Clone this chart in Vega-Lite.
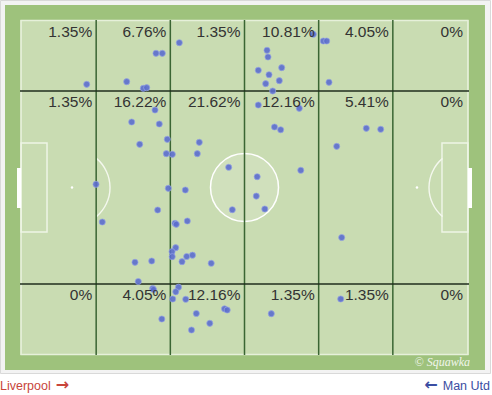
{
  "$schema": "https://vega.github.io/schema/vega-lite/v6.json",
  "width": 492,
  "height": 395,
  "autosize": {"type": "none"},
  "padding": 0,
  "background": "#ffffff",
  "config": {"view": {"stroke": null}},
  "data": {"values": [{}]},
  "datasets": {
    "vlines": [{"x": 16.667}, {"x": 33.333}, {"x": 50}, {"x": 66.667}, {"x": 83.333}],
    "hlines": [{"y": 21}, {"y": 79}],
    "boxes": [{"x1": -0.2, "x2": 5.62}, {"x1": 94.38, "x2": 100.2}],
    "goals": [{"x1": -1.12, "x2": -0.22}, {"x1": 100.22, "x2": 101.12}],
    "spots": [{"x": 11.24}, {"x": 88.76}],
    "arcs": [{"x": 11.24, "t1": 0.698, "t2": 2.443}, {"x": 88.76, "t1": 3.840, "t2": 5.585}],
    "zones": [
      {"xr": 16.667, "yt": 0, "label": "1.35%"},
      {"xr": 33.333, "yt": 0, "label": "6.76%"},
      {"xr": 50, "yt": 0, "label": "1.35%"},
      {"xr": 66.667, "yt": 0, "label": "10.81%"},
      {"xr": 83.333, "yt": 0, "label": "4.05%"},
      {"xr": 100, "yt": 0, "label": "0%"},
      {"xr": 16.667, "yt": 21, "label": "1.35%"},
      {"xr": 33.333, "yt": 21, "label": "16.22%"},
      {"xr": 50, "yt": 21, "label": "21.62%"},
      {"xr": 66.667, "yt": 21, "label": "12.16%"},
      {"xr": 83.333, "yt": 21, "label": "5.41%"},
      {"xr": 100, "yt": 21, "label": "0%"},
      {"xr": 16.667, "yt": 79, "label": "0%"},
      {"xr": 33.333, "yt": 79, "label": "4.05%"},
      {"xr": 50, "yt": 79, "label": "12.16%"},
      {"xr": 66.667, "yt": 79, "label": "1.35%"},
      {"xr": 83.333, "yt": 79, "label": "1.35%"},
      {"xr": 100, "yt": 79, "label": "0%"}
    ],
    "events": [
      {"x": 14.54, "y": 19.01},
      {"x": 30.11, "y": 9.70}, {"x": 31.53, "y": 9.70}, {"x": 23.53, "y": 18.23}, {"x": 27.26, "y": 20.21}, {"x": 28.02, "y": 20.03},
      {"x": 35.35, "y": 6.52},
      {"x": 65.46, "y": 3.99}, {"x": 55.06, "y": 8.80}, {"x": 55.28, "y": 10.81}, {"x": 58.36, "y": 14.02}, {"x": 53.10, "y": 14.80}, {"x": 55.51, "y": 16.13}, {"x": 57.82, "y": 17.93}, {"x": 54.76, "y": 18.83},
      {"x": 67.71, "y": 6.01}, {"x": 68.47, "y": 6.01}, {"x": 68.99, "y": 18.41},
      {"x": 16.63, "y": 49.04},
      {"x": 29.89, "y": 26.73}, {"x": 24.65, "y": 30.33}, {"x": 30.85, "y": 30.93}, {"x": 32.65, "y": 35.53}, {"x": 26.45, "y": 37.03}, {"x": 32.43, "y": 39.85}, {"x": 32.88, "y": 50.24}, {"x": 30.49, "y": 56.76}, {"x": 18.04, "y": 60.36}, {"x": 25.39, "y": 72.46}, {"x": 29.15, "y": 72.07}, {"x": 26.13, "y": 78.23},
      {"x": 33.78, "y": 40.03}, {"x": 39.84, "y": 36.43}, {"x": 39.39, "y": 39.85}, {"x": 46.45, "y": 43.93}, {"x": 36.70, "y": 50.75}, {"x": 47.26, "y": 56.67}, {"x": 34.38, "y": 60.75}, {"x": 34.67, "y": 61.05}, {"x": 37.15, "y": 60.06}, {"x": 34.54, "y": 68.08}, {"x": 33.71, "y": 69.28}, {"x": 33.75, "y": 70.78}, {"x": 37.01, "y": 70.72}, {"x": 38.31, "y": 70.33}, {"x": 35.96, "y": 72.28}, {"x": 42.52, "y": 72.76},
      {"x": 56.34, "y": 21.02}, {"x": 53.10, "y": 25.23}, {"x": 62.31, "y": 26.22}, {"x": 56.74, "y": 31.83}, {"x": 58.13, "y": 32.67}, {"x": 62.65, "y": 44.83}, {"x": 52.85, "y": 46.76}, {"x": 52.65, "y": 52.58}, {"x": 54.56, "y": 56.46},
      {"x": 70.72, "y": 37.63}, {"x": 77.37, "y": 32.22}, {"x": 80.61, "y": 32.52}, {"x": 71.84, "y": 65.02},
      {"x": 29.37, "y": 80.33}, {"x": 29.55, "y": 80.63}, {"x": 31.42, "y": 89.49},
      {"x": 35.17, "y": 79.94}, {"x": 34.56, "y": 81.32}, {"x": 33.87, "y": 83.48}, {"x": 36.79, "y": 83.57}, {"x": 39.17, "y": 87.84}, {"x": 45.51, "y": 86.43}, {"x": 46.11, "y": 86.79}, {"x": 42.20, "y": 90.78}, {"x": 38.09, "y": 92.79},
      {"x": 56.02, "y": 87.90},
      {"x": 71.62, "y": 83.48}
    ]
  },
  "layer": [
    {
      "mark": {"type": "rect", "fill": "#f3f3f3", "stroke": "#d9d9d9", "strokeWidth": 1},
      "encoding": {
        "x": {"datum": -4.83, "type": "quantitative", "scale": {"domain": [-4.944, 105.618], "nice": false, "zero": false}, "axis": null},
        "x2": {"datum": 105.28},
        "y": {"datum": -6.156, "type": "quantitative", "scale": {"domain": [-6.306, 112.312], "reverse": true, "nice": false, "zero": false}, "axis": null},
        "y2": {"datum": 105.86}
      }
    },
    {
      "mark": {"type": "rect", "fill": "#9ec27c"},
      "encoding": {
        "x": {"datum": -3.82, "type": "quantitative", "scale": {"domain": [-4.944, 105.618], "nice": false, "zero": false}, "axis": null},
        "x2": {"datum": 104.04},
        "y": {"datum": -4.8, "type": "quantitative", "scale": {"domain": [-6.306, 112.312], "reverse": true, "nice": false, "zero": false}, "axis": null},
        "y2": {"datum": 104.8}
      }
    },
    {
      "mark": {"type": "rect", "fill": "#c9dcb2"},
      "encoding": {
        "x": {"datum": -0.449, "type": "quantitative", "scale": {"domain": [-4.944, 105.618], "nice": false, "zero": false}, "axis": null},
        "x2": {"datum": 100.449},
        "y": {"datum": -0.3, "type": "quantitative", "scale": {"domain": [-6.306, 112.312], "reverse": true, "nice": false, "zero": false}, "axis": null},
        "y2": {"datum": 100.3}
      }
    },
    {
      "mark": {"type": "rect", "fill": null, "stroke": "#e6f0da", "strokeWidth": 1.5},
      "encoding": {
        "x": {"datum": -0.2, "type": "quantitative", "scale": {"domain": [-4.944, 105.618], "nice": false, "zero": false}, "axis": null},
        "x2": {"datum": 100.2},
        "y": {"datum": -0.15, "type": "quantitative", "scale": {"domain": [-6.306, 112.312], "reverse": true, "nice": false, "zero": false}, "axis": null},
        "y2": {"datum": 100.15}
      }
    },
    {
      "data": {"name": "boxes"},
      "mark": {"type": "rect", "fill": null, "stroke": "#eef5e6", "strokeWidth": 1.5},
      "encoding": {
        "x": {"field": "x1", "type": "quantitative", "scale": {"domain": [-4.944, 105.618], "nice": false, "zero": false}, "axis": null},
        "x2": {"field": "x2"},
        "y": {"datum": 36.64, "type": "quantitative", "scale": {"domain": [-6.306, 112.312], "reverse": true, "nice": false, "zero": false}, "axis": null},
        "y2": {"datum": 63.36}
      }
    },
    {
      "data": {"name": "goals"},
      "mark": {"type": "rect", "fill": "#ffffff"},
      "encoding": {
        "x": {"field": "x1", "type": "quantitative", "scale": {"domain": [-4.944, 105.618], "nice": false, "zero": false}, "axis": null},
        "x2": {"field": "x2"},
        "y": {"datum": 44.14, "type": "quantitative", "scale": {"domain": [-6.306, 112.312], "reverse": true, "nice": false, "zero": false}, "axis": null},
        "y2": {"datum": 56.16}
      }
    },
    {
      "mark": {"type": "point", "shape": "circle", "size": 4624, "filled": true, "fill": "#ffffff", "fillOpacity": 0.13, "stroke": "#ffffff", "strokeWidth": 1.5, "opacity": 1},
      "encoding": {
        "x": {"datum": 50, "type": "quantitative", "scale": {"domain": [-4.944, 105.618], "nice": false, "zero": false}, "axis": null},
        "y": {"datum": 50, "type": "quantitative", "scale": {"domain": [-6.306, 112.312], "reverse": true, "nice": false, "zero": false}, "axis": null}
      }
    },
    {
      "data": {"name": "spots"},
      "mark": {"type": "point", "shape": "circle", "size": 6, "filled": true, "fill": "#ffffff", "opacity": 1, "strokeWidth": 0},
      "encoding": {
        "x": {"field": "x", "type": "quantitative", "scale": {"domain": [-4.944, 105.618], "nice": false, "zero": false}, "axis": null},
        "y": {"datum": 50, "type": "quantitative", "scale": {"domain": [-6.306, 112.312], "reverse": true, "nice": false, "zero": false}, "axis": null}
      }
    },
    {
      "data": {"name": "arcs"},
      "mark": {"type": "arc", "radius": 38.7, "radius2": 37.3, "fill": "#f4f8ee"},
      "encoding": {
        "x": {"field": "x", "type": "quantitative", "scale": {"domain": [-4.944, 105.618], "nice": false, "zero": false}, "axis": null},
        "y": {"datum": 50, "type": "quantitative", "scale": {"domain": [-6.306, 112.312], "reverse": true, "nice": false, "zero": false}, "axis": null},
        "theta": {"field": "t1", "type": "quantitative", "scale": null},
        "theta2": {"field": "t2"}
      }
    },
    {
      "data": {"name": "vlines"},
      "mark": {"type": "rule", "stroke": "#3a6533", "strokeWidth": 1.5},
      "encoding": {
        "x": {"field": "x", "type": "quantitative", "scale": {"domain": [-4.944, 105.618], "nice": false, "zero": false}, "axis": null},
        "y": {"datum": -0.3, "type": "quantitative", "scale": {"domain": [-6.306, 112.312], "reverse": true, "nice": false, "zero": false}, "axis": null},
        "y2": {"datum": 100.3}
      }
    },
    {
      "data": {"name": "hlines"},
      "mark": {"type": "rule", "stroke": "#1f2e1d", "strokeWidth": 1.5},
      "encoding": {
        "x": {"datum": -0.449, "type": "quantitative", "scale": {"domain": [-4.944, 105.618], "nice": false, "zero": false}, "axis": null},
        "x2": {"datum": 100.449},
        "y": {"field": "y", "type": "quantitative", "scale": {"domain": [-6.306, 112.312], "reverse": true, "nice": false, "zero": false}, "axis": null}
      }
    },
    {
      "data": {"name": "events"},
      "mark": {"type": "point", "shape": "circle", "size": 38, "filled": true, "fill": "#5b6dcd", "fillOpacity": 0.9, "stroke": "#97a5e2", "strokeWidth": 1, "strokeOpacity": 0.7, "opacity": 1},
      "encoding": {
        "x": {"field": "x", "type": "quantitative", "scale": {"domain": [-4.944, 105.618], "nice": false, "zero": false}, "axis": null},
        "y": {"field": "y", "type": "quantitative", "scale": {"domain": [-6.306, 112.312], "reverse": true, "nice": false, "zero": false}, "axis": null}
      }
    },
    {
      "data": {"name": "zones"},
      "mark": {"type": "text", "align": "right", "baseline": "alphabetic", "dx": -4, "dy": 16, "font": "Liberation Sans", "fontSize": 15.5, "fill": "#333333"},
      "encoding": {
        "x": {"field": "xr", "type": "quantitative", "scale": {"domain": [-4.944, 105.618], "nice": false, "zero": false}, "axis": null},
        "y": {"field": "yt", "type": "quantitative", "scale": {"domain": [-6.306, 112.312], "reverse": true, "nice": false, "zero": false}, "axis": null},
        "text": {"field": "label"}
      }
    },
    {
      "mark": {"type": "text", "align": "right", "baseline": "alphabetic", "font": "Liberation Serif", "fontStyle": "italic", "fontSize": 12, "fill": "#ffffff", "opacity": 0.85},
      "encoding": {
        "x": {"datum": 100.67, "type": "quantitative", "scale": {"domain": [-4.944, 105.618], "nice": false, "zero": false}, "axis": null},
        "y": {"datum": 103.6, "type": "quantitative", "scale": {"domain": [-6.306, 112.312], "reverse": true, "nice": false, "zero": false}, "axis": null},
        "text": {"value": "© Squawka"}
      }
    },
    {
      "mark": {"type": "text", "align": "left", "baseline": "alphabetic", "font": "Liberation Sans", "fontSize": 12.5, "fill": "#c8453b"},
      "encoding": {
        "x": {"datum": -4.94, "type": "quantitative", "scale": {"domain": [-4.944, 105.618], "nice": false, "zero": false}, "axis": null},
        "y": {"datum": 110.8, "type": "quantitative", "scale": {"domain": [-6.306, 112.312], "reverse": true, "nice": false, "zero": false}, "axis": null},
        "text": {"value": "Liverpool"}
      }
    },
    {
      "mark": {"type": "text", "align": "left", "baseline": "middle", "font": "DejaVu Sans", "fontSize": 16, "fontWeight": "bold", "fill": "#c8453b"},
      "encoding": {
        "x": {"datum": 7.6, "type": "quantitative", "scale": {"domain": [-4.944, 105.618], "nice": false, "zero": false}, "axis": null},
        "y": {"datum": 109.4, "type": "quantitative", "scale": {"domain": [-6.306, 112.312], "reverse": true, "nice": false, "zero": false}, "axis": null},
        "text": {"value": "→"}
      }
    },
    {
      "mark": {"type": "text", "align": "right", "baseline": "alphabetic", "font": "Liberation Sans", "fontSize": 12.5, "fill": "#3b4ea2"},
      "encoding": {
        "x": {"datum": 105.17, "type": "quantitative", "scale": {"domain": [-4.944, 105.618], "nice": false, "zero": false}, "axis": null},
        "y": {"datum": 110.8, "type": "quantitative", "scale": {"domain": [-6.306, 112.312], "reverse": true, "nice": false, "zero": false}, "axis": null},
        "text": {"value": "Man Utd"}
      }
    },
    {
      "mark": {"type": "text", "align": "right", "baseline": "middle", "font": "DejaVu Sans", "fontSize": 16, "fontWeight": "bold", "fill": "#3b4ea2"},
      "encoding": {
        "x": {"datum": 93.4, "type": "quantitative", "scale": {"domain": [-4.944, 105.618], "nice": false, "zero": false}, "axis": null},
        "y": {"datum": 109.4, "type": "quantitative", "scale": {"domain": [-6.306, 112.312], "reverse": true, "nice": false, "zero": false}, "axis": null},
        "text": {"value": "←"}
      }
    }
  ]
}
